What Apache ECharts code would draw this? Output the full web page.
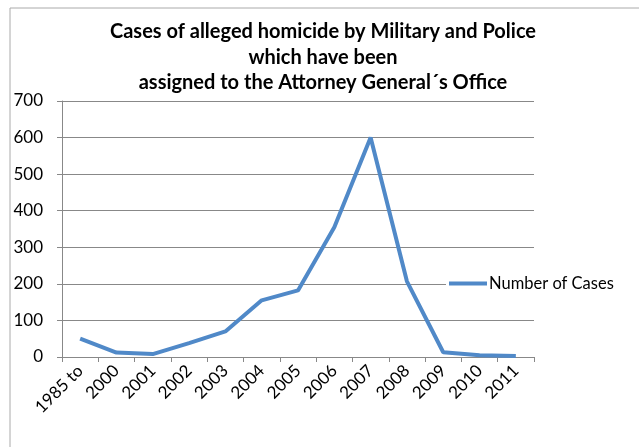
<!DOCTYPE html>
<html>
<head>
<meta charset="utf-8">
<script src="https://cdn.jsdelivr.net/npm/echarts@6/dist/echarts.min.js"></script>
<style>
html, body { margin: 0; padding: 0; background: #fff; }
#chart { width: 639px; height: 447px; }
</style>
</head>
<body>
<div id="chart"></div>
<script>
// data
let categories = ['1985 to', '2000', '2001', '2002', '2003', '2004', '2005', '2006', '2007', '2008', '2009', '2010', '2011']
let cases = [50, 12, 8, 38, 70, 155, 182, 355, 600, 207, 13, 5, 3]
let yTicks = { min: 0, max: 700, interval: 100 }
let seriesName = 'Number of Cases'
let titleText = 'Cases of alleged homicide by Military and Police\nwhich have been\nassigned to the Attorney General\u00B4s Office'

let chart = echarts.init(document.getElementById('chart'))
let axisGray = '#888888'
let lineBlue = '#5089C8'

chart.setOption({
    animation: false,
    textStyle: { fontFamily: 'Lato' },
    graphic: [{
        type: 'rect',
        shape: { x: 10, y: 8, width: 700, height: 500 },
        style: { fill: 'none', stroke: '#aaa', lineWidth: 1 },
        z: -1
    }],
    title: {
        text: titleText,
        left: 318,
        textAlign: 'center',
        top: 14,
        textStyle: {
            fontFamily: 'Lato',
            fontWeight: 'bold',
            fontSize: 20,
            lineHeight: 25.5,
            color: '#000'
        }
    },
    legend: {
        left: 446,
        top: 272,
        padding: [3, 4, 3, 3],
        icon: 'rect',
        itemWidth: 38,
        itemHeight: 4,
        itemGap: 0,
        backgroundColor: '#fff',
        textStyle: { fontSize: 16.5, color: '#000', padding: [0, 0, 0, -3] },
        data: [seriesName]
    },
    grid: {
        left: 62,
        right: 105,
        top: 101,
        bottom: 90
    },
    xAxis: {
        type: 'category',
        data: categories,
        boundaryGap: true,
        axisLine: { lineStyle: { color: axisGray } },
        axisTick: { show: true, length: 5, lineStyle: { color: axisGray } },
        axisLabel: {
            rotate: 45,
            interval: 0,
            fontSize: 17,
            color: '#000',
            margin: 11
        },
        splitLine: { show: false }
    },
    yAxis: {
        type: 'value',
        min: yTicks.min,
        max: yTicks.max,
        interval: yTicks.interval,
        axisLine: { show: true, lineStyle: { color: axisGray } },
        axisTick: { show: true, length: 5, lineStyle: { color: axisGray } },
        axisLabel: { fontSize: 17, color: '#000', margin: 19 },
        splitLine: { lineStyle: { color: axisGray } }
    },
    series: [{
        name: seriesName,
        type: 'line',
        data: cases,
        symbol: 'none',
        lineStyle: { color: lineBlue, width: 4 },
        itemStyle: { color: lineBlue }
    }]
})
</script>
</body>
</html>
